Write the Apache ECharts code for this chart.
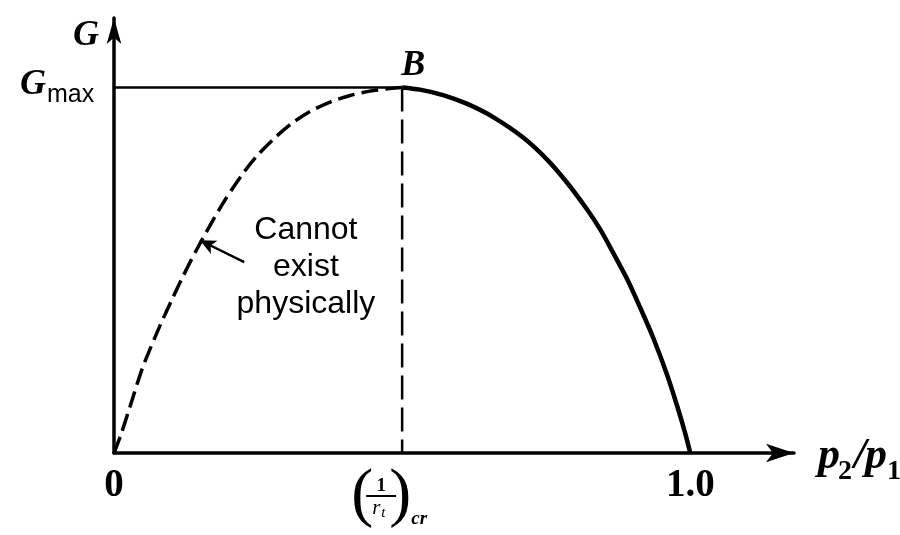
<!DOCTYPE html>
<html>
<head>
<meta charset="utf-8">
<title>Mass flow rate vs pressure ratio</title>
<script src="https://cdn.jsdelivr.net/npm/echarts@6/dist/echarts.min.js"></script>
<style>
  html, body { margin: 0; padding: 0; background: #fff; }
  #chart { width: 900px; height: 535px; }
</style>
</head>
<body>
<div id="chart"></div>
<script>
// Flow G (as a fraction of Gmax) against pressure ratio p2/p1.
// Branch below the critical ratio: cannot exist physically (dashed).
const ratioDashed = [0, 0.012, 0.028, 0.050, 0.080, 0.101, 0.120, 0.144, 0.189, 0.224, 0.250, 0.281, 0.309, 0.340, 0.375, 0.410, 0.444, 0.479, 0.500];
const flowDashed  = [0, 0.050, 0.128, 0.235, 0.349, 0.421, 0.484, 0.558, 0.683, 0.765, 0.816, 0.865, 0.902, 0.934, 0.960, 0.978, 0.990, 0.997, 1.000];
// Physical branch from the critical ratio up to p2/p1 = 1.0 (solid).
const ratioSolid = [0.500, 0.531, 0.571, 0.613, 0.658, 0.710, 0.752, 0.786, 0.821, 0.844, 0.866, 0.891, 0.913, 0.936, 0.960, 0.977, 0.991, 1.000];
const flowSolid  = [1.000, 0.994, 0.979, 0.955, 0.919, 0.863, 0.802, 0.740, 0.666, 0.611, 0.548, 0.474, 0.398, 0.314, 0.213, 0.130, 0.055, 0];
// Critical point B and the arrow pointing at the dashed branch.
const criticalRatio = 0.5;
const flowMax = 1.0;
const arrowTail = [0.226, 0.522];
const arrowHead = [0.149, 0.582];
const noteAnchor = [0.333, 0.623];
const noteLines = ['Cannot', 'exist', 'physically'];
// Axis extents and the ticks that carry labels.
const ratioAxisMax = 1.18;
const flowAxisMax = 1.19;
const ratioTickLabels = { 0: '0', 1: '1.0' };

const serif = '"Liberation Serif", "DejaVu Serif", serif';
const sans = '"Liberation Sans", Arial, sans-serif';
const ink = '#000';

const pair = (xs, ys) => xs.map((x, i) => [x, ys[i]]);

const chart = echarts.init(document.getElementById('chart'));

chart.setOption({
  animation: false,
  backgroundColor: '#fff',
  grid: { left: 114, right: 106, top: 18, bottom: 82, containLabel: false },
  xAxis: {
    type: 'value',
    min: 0, max: ratioAxisMax, interval: 0.5,
    axisLine: {
      show: true,
      symbol: ['none', 'arrow'],
      symbolSize: [14, 28],
      lineStyle: { color: ink, width: 3.5 }
    },
    axisTick: { show: false },
    splitLine: { show: false },
    axisLabel: {
      margin: 13,
      fontFamily: serif, fontWeight: 'bold', fontSize: 39, color: ink,
      showMaxLabel: false,
      formatter: v => (ratioTickLabels[v] !== undefined ? ratioTickLabels[v] : '')
    }
  },
  yAxis: {
    type: 'value',
    min: 0, max: flowAxisMax, interval: 1,
    axisLine: {
      show: true,
      symbol: ['none', 'arrow'],
      symbolSize: [11, 26],
      lineStyle: { color: ink, width: 3.5 }
    },
    axisTick: { show: false },
    splitLine: { show: false },
    axisLabel: { show: false }
  },
  series: [
    {
      name: 'unphysical branch',
      type: 'line',
      data: pair(ratioDashed, flowDashed),
      smooth: 0.3,
      showSymbol: false,
      lineStyle: { color: ink, width: 3.5, type: [17, 7] },
      z: 3
    },
    {
      name: 'physical branch',
      type: 'line',
      data: pair(ratioSolid, flowSolid),
      smooth: 0.3,
      showSymbol: false,
      lineStyle: { color: ink, width: 4.5 },
      z: 3
    },
    {
      name: 'Gmax level',
      type: 'line',
      data: [[0, flowMax], [criticalRatio, flowMax]],
      showSymbol: false,
      lineStyle: { color: ink, width: 2.5 },
      z: 2
    },
    {
      name: 'critical ratio',
      type: 'line',
      data: [[criticalRatio, flowMax], [criticalRatio, 0]],
      showSymbol: false,
      lineStyle: { color: ink, width: 2.5, type: [24, 8] },
      z: 2,
      markLine: {
        silent: true,
        symbol: ['none', 'arrow'],
        symbolSize: [11, 16],
        label: { show: false },
        lineStyle: { color: ink, width: 2.5, type: 'solid', curveness: 0.3 },
        data: [[{ coord: arrowTail }, { coord: arrowHead }]]
      }
    }
  ]
});

// Text annotations placed from data coordinates.
const px = pt => chart.convertToPixel({ gridIndex: 0 }, pt);
const yTop = px([0, flowAxisMax]);
const xEnd = px([ratioAxisMax, 0]);
const gmax = px([0, flowMax]);
const peak = px([criticalRatio, flowMax]);
const crit = px([criticalRatio, 0]);
const note = px(noteAnchor);

const italicBold = { fontFamily: serif, fontStyle: 'italic', fontWeight: 'bold', fill: ink };
const txt = (x, y, text, style) => ({
  type: 'text', x, y,
  style: Object.assign({ text, align: 'left', verticalAlign: 'middle' }, style)
});

chart.setOption({
  graphic: [
    // y-axis name G
    txt(yTop[0] - 28, yTop[1] + 18, 'G', Object.assign({ fontSize: 36, align: 'center' }, italicBold)),
    // G_max level label
    { type: 'group', x: gmax[0], y: gmax[1], children: [
      txt(-94, -3, 'G', Object.assign({ fontSize: 36 }, italicBold)),
      txt(-67, 8, 'max', { fontFamily: sans, fontSize: 25, fill: ink })
    ] },
    // x-axis name p2/p1
    { type: 'group', x: xEnd[0], y: xEnd[1], children: [
      txt(24, 4, 'p', Object.assign({ fontSize: 44 }, italicBold)),
      txt(44, 19, '2', { fontFamily: serif, fontWeight: 'bold', fontSize: 28, fill: ink }),
      txt(60, 4, '/', Object.assign({ fontSize: 44 }, italicBold)),
      txt(71, 4, 'p', Object.assign({ fontSize: 44 }, italicBold)),
      txt(93, 19, '1', { fontFamily: serif, fontWeight: 'bold', fontSize: 28, fill: ink })
    ] },
    // point B
    txt(peak[0] + 11, peak[1] - 22, 'B', Object.assign({ fontSize: 36, align: 'center' }, italicBold)),
    // note next to the dashed branch
    { type: 'text', x: note[0], y: note[1] - 14,
      style: { text: noteLines.join('\n'), fontFamily: sans, fontSize: 32, lineHeight: 37, fill: ink, align: 'center', verticalAlign: 'top' } },
    // (1 / r_t)_cr under the critical ratio
    { type: 'group', x: crit[0], y: crit[1],
      children: [
        { type: 'text', x: -40, y: 44, style: { text: '(', fontFamily: serif, fontSize: 66, fill: ink, align: 'center', verticalAlign: 'middle' } },
        { type: 'text', x: -2, y: 44, style: { text: ')', fontFamily: serif, fontSize: 66, fill: ink, align: 'center', verticalAlign: 'middle' } },
        { type: 'text', x: -21, y: 33, style: { text: '1', fontFamily: serif, fontWeight: 'bold', fontSize: 19, fill: ink, align: 'center', verticalAlign: 'middle' } },
        { type: 'line', shape: { x1: -36, y1: 43, x2: -6, y2: 43 }, style: { stroke: ink, lineWidth: 2 } },
        txt(-30, 55, 'r', { fontFamily: serif, fontStyle: 'italic', fontSize: 21, fill: ink }),
        txt(-21, 60, 't', { fontFamily: serif, fontStyle: 'italic', fontSize: 15, fill: ink }),
        { type: 'text', x: 17, y: 66, style: { text: 'cr', fontFamily: serif, fontStyle: 'italic', fontWeight: 'bold', fontSize: 19, fill: ink, align: 'center', verticalAlign: 'middle' } }
      ] }
  ]
});
</script>
</body>
</html>
